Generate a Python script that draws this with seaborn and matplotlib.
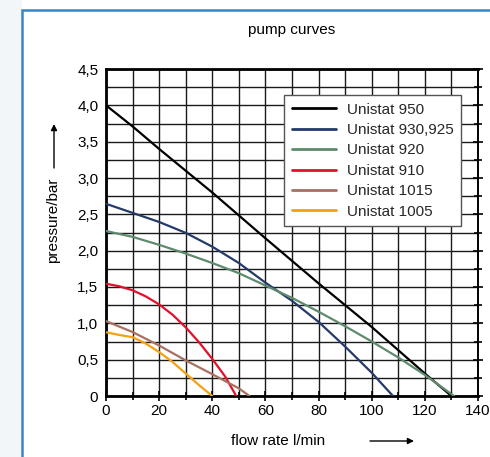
import numpy as np
import pandas as pd
import matplotlib
matplotlib.use("Agg")
import matplotlib.pyplot as plt
from matplotlib.patches import Rectangle
from matplotlib.ticker import MultipleLocator, FuncFormatter
import seaborn as sns

sns.set_theme(style="white")
plt.rcParams['font.family'] = ['Liberation Sans', 'DejaVu Sans']

# ---- data ----
series_names = ["Unistat 950", "Unistat 930,925", "Unistat 920",
                "Unistat 910", "Unistat 1015", "Unistat 1005"]
colors = ["#000000", "#243a6a", "#5e8a6e", "#e3102a", "#a87060", "#f5a010"]

flow_950 = [0, 10, 20, 40, 60, 80, 100, 120, 130]
pres_950 = [4.0, 3.71, 3.40, 2.80, 2.17, 1.55, 0.95, 0.31, 0.0]

flow_930 = [0, 10, 20, 30, 40, 50, 60, 70, 80, 90, 100, 108]
pres_930 = [2.645, 2.52, 2.395, 2.245, 2.055, 1.83, 1.56, 1.31, 1.02, 0.68, 0.32, 0.0]

flow_920 = [0, 10, 20, 30, 40, 50, 60, 70, 80, 90, 100, 110, 120, 131]
pres_920 = [2.27, 2.19, 2.08, 1.96, 1.83, 1.69, 1.52, 1.35, 1.16, 0.96, 0.75, 0.53, 0.29, 0.0]

flow_910 = [0, 5, 10, 15, 20, 25, 30, 35, 40, 45, 49]
pres_910 = [1.545, 1.51, 1.455, 1.37, 1.26, 1.12, 0.945, 0.74, 0.51, 0.26, 0.0]

flow_1015 = [0, 10, 20, 30, 40, 50, 54]
pres_1015 = [1.03, 0.88, 0.695, 0.49, 0.30, 0.105, 0.0]

flow_1005 = [0, 5, 10, 15, 20, 25, 30, 35, 40]
pres_1005 = [0.877, 0.84, 0.81, 0.72, 0.605, 0.47, 0.31, 0.15, 0.0]

all_flows = [flow_950, flow_930, flow_920, flow_910, flow_1015, flow_1005]
all_press = [pres_950, pres_930, pres_920, pres_910, pres_1015, pres_1005]

frames = []
for name, f, p in zip(series_names, all_flows, all_press):
    frames.append(pd.DataFrame({"flow": f, "pressure": p, "pump": name}))
df = pd.concat(frames, ignore_index=True)

# ---- figure ----
fig = plt.figure(figsize=(4.9, 4.57), dpi=100)
W, H = 490, 457

# light left strip and blue frame (drawn behind the axes)
fig.patches.append(Rectangle((0, 0), 22 / W, 1, transform=fig.transFigure,
                             facecolor="#f3f6f9", edgecolor="none", zorder=-10))
fig.patches.append(Rectangle((22 / W, -0.1), 1.2, 1 - 10 / H + 0.1,
                             transform=fig.transFigure, facecolor="white",
                             edgecolor="#3a85c4", linewidth=1.8, zorder=-9))

ax = fig.add_axes([106 / W, 1 - 396 / H, (478 - 106) / W, (396 - 69) / H])
ax.set_facecolor("white")

sns.lineplot(data=df, x="flow", y="pressure", hue="pump",
             palette=dict(zip(series_names, colors)), hue_order=series_names,
             linewidth=1.6, ax=ax, sort=False, estimator=None, zorder=3)

ax.set_xlim(0, 140)
ax.set_ylim(0, 4.5)
ax.xaxis.set_major_locator(MultipleLocator(20))
ax.xaxis.set_minor_locator(MultipleLocator(10))
ax.yaxis.set_major_locator(MultipleLocator(0.5))
ax.yaxis.set_minor_locator(MultipleLocator(0.25))

def yfmt(v, pos):
    if abs(v) < 1e-9:
        return "0"
    return f"{v:.1f}".replace(".", ",")

ax.yaxis.set_major_formatter(FuncFormatter(yfmt))
ax.xaxis.set_major_formatter(FuncFormatter(lambda v, p: f"{int(round(v))}"))

ax.grid(True, which="both", color="#1a1a1a", linewidth=1.0)
ax.set_axisbelow(True)

ax.tick_params(axis="both", which="both", direction="inout", color="black",
               labelsize=11, labelcolor="black")
ax.tick_params(axis="both", which="major", length=7, width=1.2, pad=2)
ax.tick_params(axis="both", which="minor", length=6, width=1.2)
ax.tick_params(axis="y", which="both", right=True)
ax.tick_params(axis="x", which="both", bottom=True)

for side in ["left", "bottom", "top"]:
    ax.spines[side].set_visible(True)
    ax.spines[side].set_color("black")
    ax.spines[side].set_linewidth(2.0)
ax.spines["right"].set_visible(True)
ax.spines["right"].set_color("black")
ax.spines["right"].set_linewidth(1.4)

ax.set_xlabel("")
ax.set_ylabel("")

handles, labels = ax.get_legend_handles_labels()
leg = ax.legend(handles, labels, loc="upper left",
                bbox_to_anchor=((284 - 106) / (478 - 106), 1 - (95 - 69) / (396 - 69)),
                frameon=True, fancybox=False, fontsize=11, handlelength=2.9,
                handletextpad=0.7, borderpad=0.5, labelspacing=0.42,
                borderaxespad=0)
leg.get_frame().set_edgecolor("#555555")
leg.get_frame().set_linewidth(1.0)
leg.get_frame().set_facecolor("white")
leg.get_frame().set_alpha(1.0)
leg.set_zorder(5)
for lh in leg.get_lines():
    lh.set_linewidth(2.0)

# title and axis labels
fig.text(292 / W, 1 - 30 / H, "pump curves", ha="center", va="center",
         fontsize=11, color="black")
fig.text(278 / W, 1 - 441 / H, "flow rate l/min", ha="center", va="center",
         fontsize=11, color="black")
fig.text(53 / W, 1 - 220 / H, "pressure/bar", ha="center", va="center",
         rotation=90, fontsize=11, color="black")

# arrows
ax.annotate("", xy=(414 / W, 1 - 441 / H), xytext=(370 / W, 1 - 441 / H),
            xycoords="figure fraction", textcoords="figure fraction",
            arrowprops=dict(arrowstyle="-|>", color="black", lw=1.0,
                            mutation_scale=9, shrinkA=0, shrinkB=0),
            annotation_clip=False)
ax.annotate("", xy=(54 / W, 1 - 124 / H), xytext=(54 / W, 1 - 168 / H),
            xycoords="figure fraction", textcoords="figure fraction",
            arrowprops=dict(arrowstyle="-|>", color="black", lw=1.0,
                            mutation_scale=9, shrinkA=0, shrinkB=0),
            annotation_clip=False)

fig.savefig("out.png", dpi=100)
